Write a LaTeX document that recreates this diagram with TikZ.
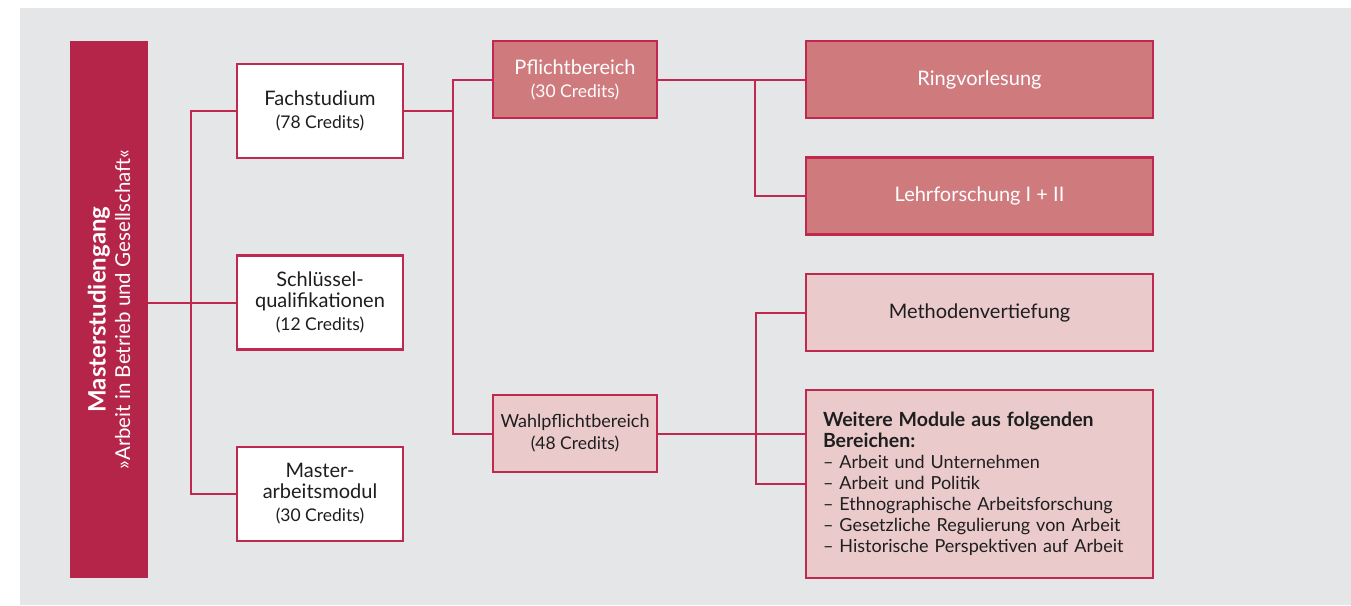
\documentclass[tikz,border=0pt]{standalone}
\usepackage{fontspec}
\setmainfont{Lato}
\usetikzlibrary{positioning, calc}

\definecolor{bordeaux}{HTML}{B5254A}
\definecolor{linered}{HTML}{C0294F}
\definecolor{rosedark}{HTML}{CF7B7E}
\definecolor{roselight}{HTML}{EBCACB}
\definecolor{bggrey}{HTML}{E5E6E8}
\definecolor{textdark}{HTML}{1E1E1E}

\tikzset{
  modbox/.style={draw=linered, line width=2.4pt, inner sep=0pt, align=center,
    text=textdark, font=\fontsize{20}{23}\selectfont},
  whitebox/.style={modbox, fill=white, minimum width=166, minimum height=94},
  areabox/.style={modbox, minimum width=164, minimum height=77},
  wideBox/.style={modbox, minimum width=347, minimum height=77},
  darkfill/.style={fill=rosedark, text=white},
  lightfill/.style={fill=roselight},
  link/.style={draw=linered, line width=2pt},
}
\newcommand{\credits}[1]{\\{\fontsize{17.5}{21}\selectfont (#1 Credits)}}

\begin{document}
\begin{tikzpicture}[x=1pt, y=-1pt, line join=miter]
\useasboundingbox (0,0) rectangle (1351,605);
\fill[bggrey] (20,8) rectangle (1351,605);

% Title bar
\node[fill=bordeaux, minimum width=537, minimum height=78, inner sep=0pt,
  text=white, rotate=90, align=center] (master) at (109,309.5)
  {{\bfseries\fontsize{24}{27}\selectfont Masterstudiengang}\\[4pt]
   {\fontsize{20.5}{25}\selectfont »Arbeit in Betrieb und Gesellschaft«}};

% First level
\node[whitebox] (fach) at (320,111) {Fachstudium\credits{78}};
\node[whitebox] (schluessel) at (320,302.5) {Schlüssel-\\[-2pt]qualifikationen\credits{12}};
\node[whitebox] (arbeit) at (320,494) {Master-\\[-2pt]arbeitsmodul\credits{30}};

% Second level
\node[areabox, darkfill] (pflicht) at (575,79.5) {Pflichtbereich\credits{30}};
\node[areabox, lightfill, font=\fontsize{18}{22}\selectfont] (wahl) at (575,433.5)
  {Wahlpflichtbereich\credits{48}};

% Third level
\node[wideBox, darkfill] (ring) at (979.5,79.5) {Ringvorlesung};
\node[wideBox, darkfill] (lehr) at (979.5,196) {Lehrforschung I + II};
\node[wideBox, lightfill] (methoden) at (979.5,312.5) {Methodenvertiefung};
\node[modbox, lightfill, minimum width=347, minimum height=188, text width=313,
  inner xsep=17pt, align=left, font=\fontsize{18}{21}\selectfont] (weitere) at (979.5,484)
  {{\bfseries\fontsize{19.5}{21}\selectfont Weitere Module aus folgenden\\Bereichen:}\\
   – Arbeit und Unternehmen\\
   – Arbeit und Politik\\
   – Ethnographische Arbeitsforschung\\
   – Gesetzliche Regulierung von Arbeit\\
   – Historische Perspektiven auf Arbeit};

% Connectors
\coordinate (msplit) at (191,111);
\coordinate (psplit) at (453,111);
\coordinate (rsplit) at (755,79.5);
\coordinate (wsplit) at (756,433.5);

\draw[link] (master.south |- schluessel.west) -- (schluessel.west);
\draw[link] (fach.west) -- (msplit) |- (arbeit.west);
\draw[link] (fach.east) -- (psplit);
\draw[link] (pflicht.west) -| (psplit) |- (wahl.west);
\draw[link] (pflicht.east) -- (ring.west);
\draw[link] (rsplit) |- (lehr.west);
\draw[link] (wahl.east) -- (wahl.east -| weitere.west);
\draw[link] (methoden.west) -| (wsplit) |- (weitere.west);
\end{tikzpicture}
\end{document}
